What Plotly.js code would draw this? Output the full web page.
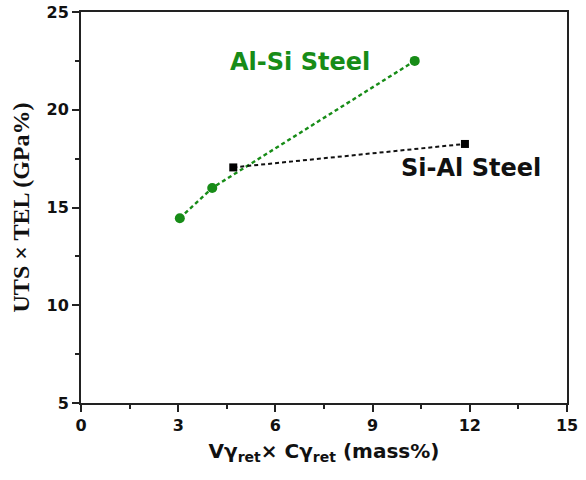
<!DOCTYPE html>
<html>
<head>
<meta charset="utf-8">
<script src="https://cdn.plot.ly/plotly-3.0.1.min.js"></script>
<style>
  html, body { margin: 0; padding: 0; background: #fff; }
  #chart { width: 586px; height: 480px; }
</style>
</head>
<body>
<div id="chart"></div>
<script>
// Al-Si steel: product of retained austenite fraction and its carbon content vs. UTS x TEL
const alSiX = [3.05, 4.05, 10.3];
const alSiY = [14.45, 16.0, 22.5];

// Si-Al steel
const siAlX = [4.7, 11.85];
const siAlY = [17.05, 18.25];

const xTicks = [0, 3, 6, 9, 12, 15];
const yTicks = [5, 10, 15, 20, 25];

const green = '#178C17';
const sans = 'DejaVu Sans, Arial, sans-serif';
const tickFont = { family: sans, size: 16, color: '#111', weight: 700 };

const traces = [
  {
    x: alSiX, y: alSiY, type: 'scatter', mode: 'lines+markers',
    line: { color: green, width: 2.4, dash: '4px,3px' },
    marker: { color: green, size: 10, symbol: 'circle' },
    name: 'Al-Si Steel', showlegend: false
  },
  {
    x: siAlX, y: siAlY, type: 'scatter', mode: 'lines+markers',
    line: { color: '#111', width: 2, dash: '4px,3px' },
    marker: { color: '#000', size: 8, symbol: 'square' },
    name: 'Si-Al Steel', showlegend: false
  }
];

const axisCommon = {
  showgrid: false, zeroline: false,
  showline: true, linecolor: '#222', linewidth: 2, mirror: true,
  ticks: 'outside', ticklen: 7, tickwidth: 2, tickcolor: '#222',
  tickfont: tickFont
};

const layout = {
  width: 586, height: 480,
  margin: { l: 81, r: 19, t: 12, b: 77 },
  paper_bgcolor: '#fff', plot_bgcolor: '#fff',
  xaxis: Object.assign({}, axisCommon, {
    range: [0, 15], tickmode: 'array', tickvals: xTicks, ticktext: xTicks.map(String),
    minor: { ticks: 'outside', ticklen: 4, tickwidth: 2, tickcolor: '#222', dtick: 1.5, tick0: 0 },
    title: {
      text: '<b>Vγ<sub>ret</sub>× Cγ<sub>ret</sub> (mass%)</b>',
      font: { family: sans, size: 20, color: '#111' },
      standoff: 10
    }
  }),
  yaxis: Object.assign({}, axisCommon, {
    range: [5, 25], tickmode: 'array', tickvals: yTicks, ticktext: yTicks.map(String),
    minor: { ticks: 'outside', ticklen: 4, tickwidth: 2, tickcolor: '#222', dtick: 2.5, tick0: 5 },
    title: {
      text: '<b>UTS × TEL (GPa%)</b>',
      font: { family: 'Liberation Serif, Times New Roman, serif', size: 24, color: '#111' },
      standoff: 10
    }
  }),
  annotations: [
    {
      x: 6.76, y: 22.45, xref: 'x', yref: 'y', showarrow: false,
      text: '<b>Al-Si Steel</b>',
      font: { family: sans, size: 24, color: green }
    },
    {
      x: 12.04, y: 17.0, xref: 'x', yref: 'y', showarrow: false,
      text: '<b>Si-Al Steel</b>',
      font: { family: sans, size: 24, color: '#111' }
    }
  ]
};

Plotly.newPlot('chart', traces, layout, { displayModeBar: false, staticPlot: true });
</script>
</body>
</html>
